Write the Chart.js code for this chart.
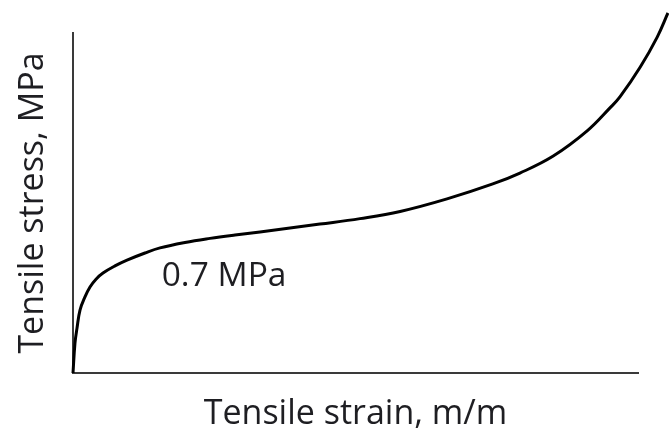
<!DOCTYPE html>
<html>
<head>
<meta charset="utf-8">
<script src="https://cdn.jsdelivr.net/npm/chart.js@4/dist/chart.umd.min.js"></script>
<style>
  html, body { margin: 0; padding: 0; background: #ffffff; }
  #wrap { width: 669px; height: 436px; position: relative; }
</style>
</head>
<body>
<div id="wrap"><canvas id="c"></canvas></div>
<script>
// Strain (x) and stress (y), in axis units (axis spans 0..10 on both)
const strain = [0, 0.035, 0.071, 0.124, 0.212, 0.301, 0.407, 0.531, 0.743, 0.956, 1.274, 1.54, 1.982, 2.425, 2.867, 3.31, 4.37, 5.08, 5.79, 6.62, 7.43, 7.91, 8.50, 9.10, 9.50, 9.68, 10.04, 10.34, 10.53];
const stress = [0, 0.88, 1.32, 1.85, 2.24, 2.53, 2.76, 2.94, 3.15, 3.32, 3.53, 3.68, 3.84, 3.96, 4.06, 4.15, 4.38, 4.54, 4.75, 5.12, 5.56, 5.88, 6.38, 7.12, 7.79, 8.12, 9.00, 9.88, 10.59];
const xTitle = 'Tensile strain, m/m';
const yTitle = 'Tensile stress, MPa';
const annotationText = '0.7 MPa';
const annotationX = 1.57;
const annotationY = 2.57;
const axisMax = 10;

const points = strain.map((x, i) => ({ x: x, y: stress[i] }));
const FONT = "'Open Sans', 'DejaVu Sans', sans-serif";

const annotationPlugin = {
  id: 'annot',
  afterDatasetsDraw(chart) {
    const ctx = chart.ctx;
    const xs = chart.scales.x, ys = chart.scales.y;
    ctx.save();
    ctx.font = '33.5px ' + FONT;
    ctx.fillStyle = '#1e1e22';
    ctx.textAlign = 'left';
    ctx.textBaseline = 'alphabetic';
    ctx.fillText(annotationText, xs.getPixelForValue(annotationX), ys.getPixelForValue(annotationY));
    ctx.restore();
  }
};

new Chart(document.getElementById('c'), {
  type: 'line',
  data: {
    datasets: [{
      data: points,
      borderColor: '#000000',
      borderWidth: 3,
      pointRadius: 0,
      fill: false,
      tension: 0.4,
      clip: false
    }]
  },
  options: {
    responsive: true,
    maintainAspectRatio: false,
    animation: false,
    events: [],
    layout: { padding: { top: 33, right: 31, bottom: 0, left: 0 } },
    plugins: { legend: { display: false }, tooltip: { enabled: false } },
    scales: {
      x: {
        type: 'linear',
        afterDataLimits: (s) => { s.min = 0; s.max = axisMax; },
        ticks: { display: false },
        grid: { display: false, drawTicks: false },
        border: { display: true, color: '#3a3a3a', width: 2 },
        title: {
          display: true, text: xTitle, color: '#1e1e22',
          font: { family: FONT, size: 34 },
          padding: { top: 20.6, bottom: 1.6 }
        }
      },
      y: {
        type: 'linear',
        min: 0, max: axisMax,
        ticks: { display: false },
        grid: { display: false, drawTicks: false },
        border: { display: true, color: '#3a3a3a', width: 2 },
        title: {
          display: true, text: yTitle, color: '#1e1e22',
          font: { family: FONT, size: 34 },
          padding: { top: 12.6, bottom: 19.6 }
        }
      }
    }
  },
  plugins: [annotationPlugin]
});
</script>
</body>
</html>
